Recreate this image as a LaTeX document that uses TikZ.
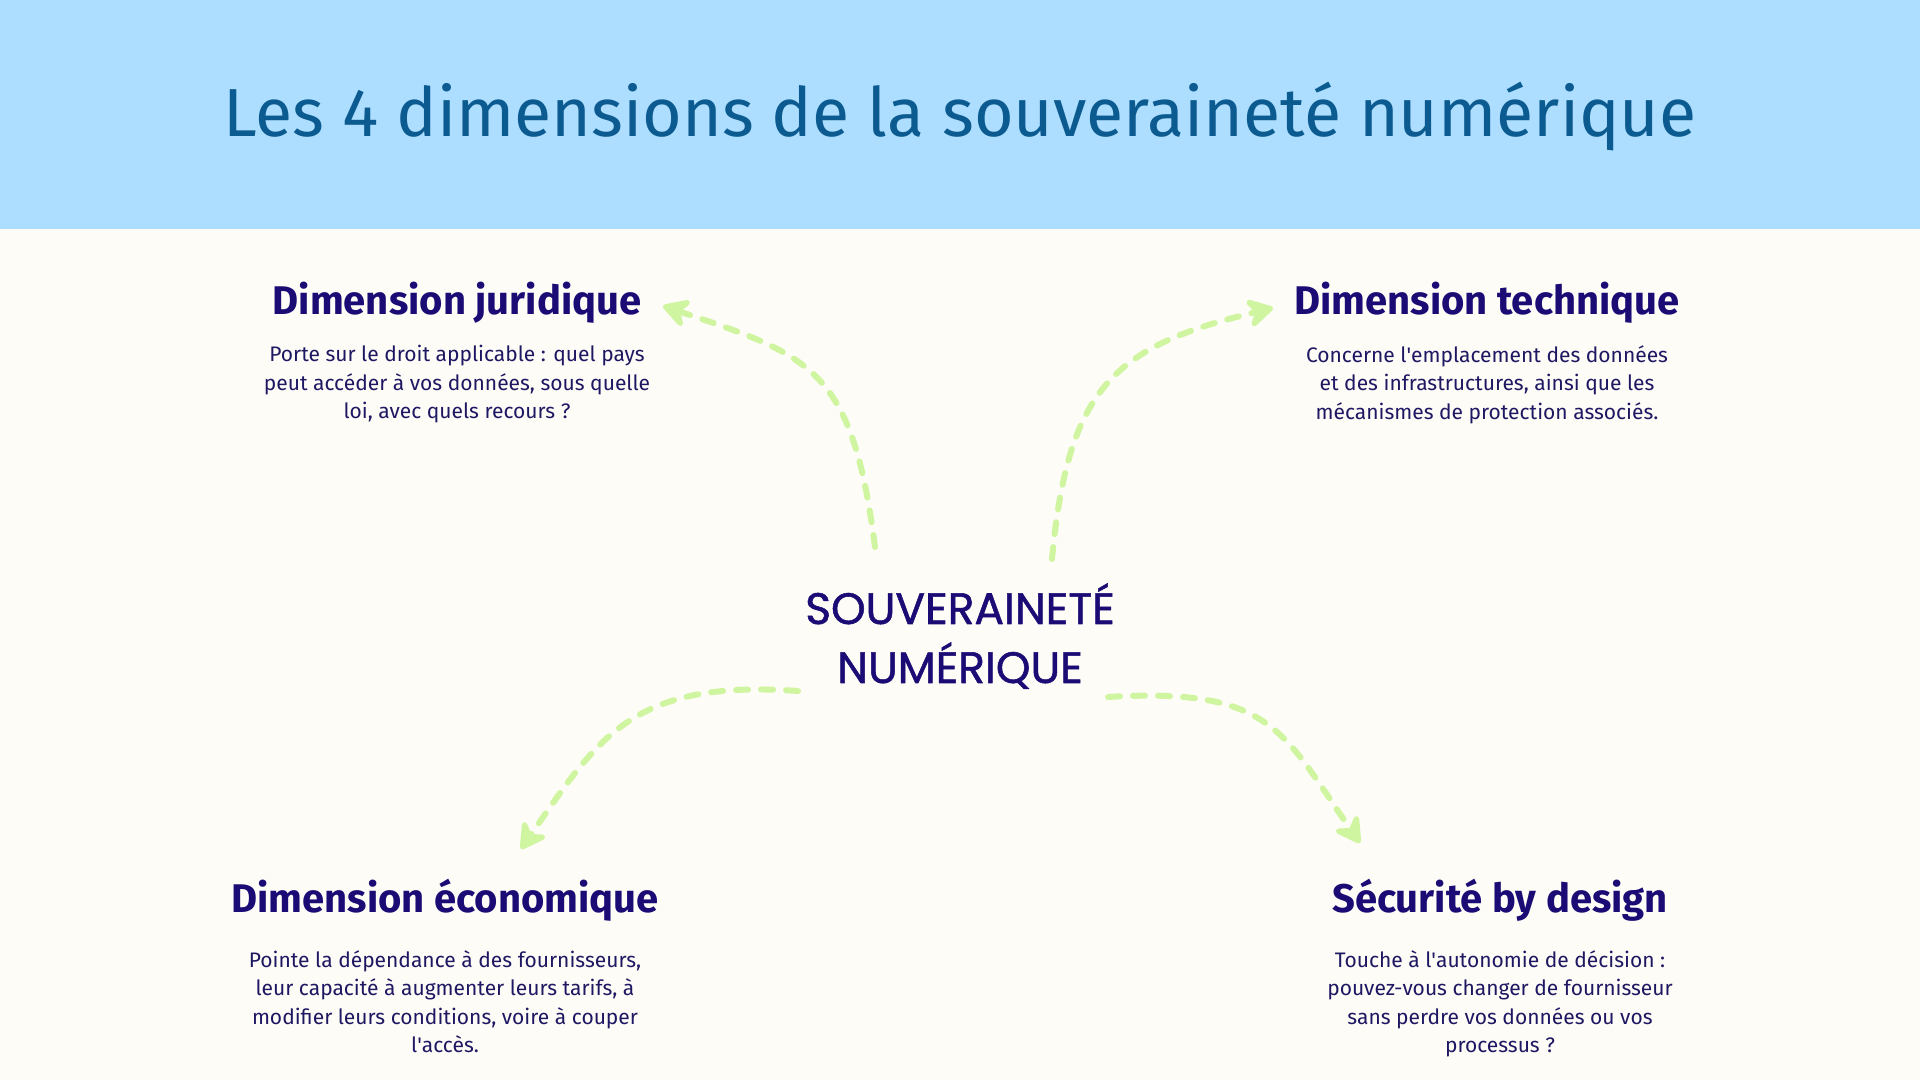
\documentclass[tikz,border=0pt]{standalone}
\usepackage{fontspec}
\setmainfont{Fira Sans}
\newfontfamily\centrefont[FakeBold=1.2]{Poppins}
\usetikzlibrary{arrows.meta}
\definecolor{bandeau}{HTML}{ADDEFF}
\definecolor{fond}{HTML}{FDFCF7}
\definecolor{titrebleu}{HTML}{0B5A90}
\definecolor{marine}{HTML}{1B0B74}
\definecolor{textemarine}{HTML}{1E1762}
\definecolor{vertpale}{HTML}{D0F5A0}
\tikzset{
  titre/.style={anchor=base,inner sep=0pt,text=titrebleu,font=\fontsize{68}{80}\selectfont},
  dimtitre/.style={anchor=base,inner sep=0pt,text=marine,font=\fontsize{40}{46}\bfseries\selectfont},
  dimtexte/.style={anchor=north,inner sep=0pt,align=center,text=textemarine,font=\fontsize{21}{28.5}\selectfont},
  centre/.style={anchor=north,inner sep=0pt,align=center,text=marine,font=\centrefont\fontsize{44}{59}\selectfont},
  fleche/.style={->,draw=vertpale,line width=6pt,dash pattern=on 12pt off 13pt}
}
\begin{document}
\begin{tikzpicture}[x=1pt,y=1pt,line join=round,line cap=round,>={Stealth[round,length=32pt,width=36pt,inset=11pt]}]
	\fill[fond] (0,0) rectangle (1920,1080);
	\fill[bandeau] (0,851) rectangle (1920,1080);
	\useasboundingbox (0,0) rectangle (1920,1080);
	\node[titre] (titre) at (960,943) {Les 4 dimensions de la souveraineté numérique};
	% les quatre dimensions
	\node[dimtitre] (jur) at (457,765) {Dimension juridique};
	\node[dimtexte] (jurtxt) at (457,735) {Porte sur le droit applicable : quel pays\\peut accéder à vos données, sous quelle\\loi, avec quels recours ?};
	\node[dimtitre] (tech) at (1487,765) {Dimension technique};
	\node[dimtexte] (techtxt) at (1487,735) {Concerne l\textquotesingle emplacement des données\\et des infrastructures, ainsi que les\\mécanismes de protection associés.};
	\node[dimtitre] (eco) at (445,168) {Dimension économique};
	\node[dimtexte] (ecotxt) at (445,130) {Pointe la dépendance à des fournisseurs,\\leur capacité à augmenter leurs tarifs, à\\modifier leurs conditions, voire à couper\\l\textquotesingle accès.};
	\node[dimtitre] (secu) at (1500,168) {Sécurité by design};
	\node[dimtexte] (secutxt) at (1500,130) {Touche à l\textquotesingle autonomie de décision :\\pouvez-vous changer de fournisseur\\sans perdre vos données ou vos\\processus ?};
	\node[centre] (souv) at (960,497) {SOUVERAINETÉ\\NUMÉRIQUE};
	% bouts des fleches
	\coordinate (d1) at (875,533); \coordinate (f1) at (663,774);
	\coordinate (d2) at (1052,521); \coordinate (f2) at (1273,772);
	\coordinate (d3) at (798,389); \coordinate (f3) at (521,231);
	\coordinate (d4) at (1108,383); \coordinate (f4) at (1360,237);
	\draw[fleche] (d1) .. controls (852,712) and (812,724) .. (f1);
	\draw[fleche] (d2) .. controls (1068,693) and (1114,734) .. (f2);
	\draw[fleche] (d3) .. controls (632,401) and (598,342) .. (f3);
	\draw[fleche] (d4) .. controls (1272,393) and (1283,348) .. (f4);
\end{tikzpicture}
\end{document}
